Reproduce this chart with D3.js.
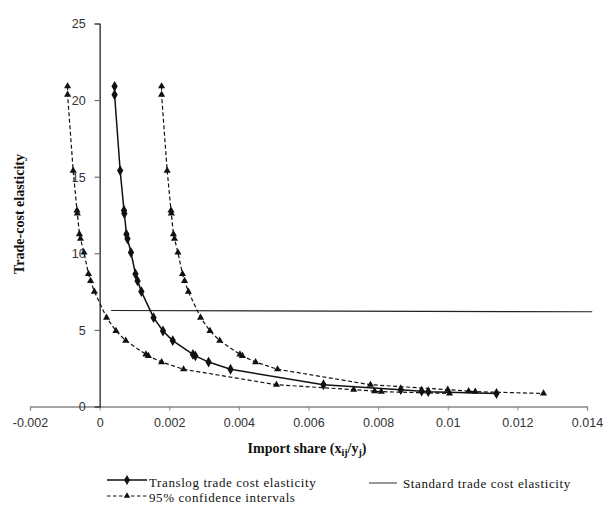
<!DOCTYPE html>
<html>
<head>
<meta charset="utf-8">
<script src="https://cdn.jsdelivr.net/npm/d3@7"></script>
<style>
  body { margin: 0; background: #fff; }
  .tick text { font-family: "Liberation Sans", Arial, sans-serif; font-size: 12.5px; fill: #333; }
  .ttl { font-family: "Liberation Serif", "Times New Roman", serif; font-weight: bold; font-size: 14px; fill: #111; }
  .leg { font-family: "Liberation Serif", "Times New Roman", serif; font-size: 13px; letter-spacing: 0.6px; fill: #111; }
</style>
</head>
<body>
<div id="chart"></div>
<script>
// central translog estimate (x = import share, y = elasticity)
const translogX = [0.00043, 0.00043, 0.00059, 0.00070, 0.00071, 0.00077, 0.00080, 0.00090, 0.00103, 0.00109, 0.00120,
                   0.00155, 0.00182, 0.00210, 0.00268, 0.00275, 0.00313, 0.00376, 0.00643, 0.00865, 0.00925, 0.00944, 0.01140];
const translogY = [20.9, 20.35, 15.4, 12.8, 12.6, 11.25, 10.95, 10.05, 8.65, 8.2, 7.5,
                   5.8, 4.93, 4.3, 3.4, 3.3, 2.9, 2.43, 1.42, 1.1, 1.0, 0.97, 0.85];
// 95% confidence bands
const lowerX = [-0.00092, -0.00092, -0.00076, -0.00065, -0.00064, -0.00058, -0.00055, -0.00045, -0.00032, -0.00026, -0.00015,
                0.00020, 0.00047, 0.00075, 0.00133, 0.00140, 0.00178, 0.00241, 0.00508, 0.00730, 0.00790, 0.00809, 0.01005];
const upperX = [0.00178, 0.00178, 0.00194, 0.00205, 0.00206, 0.00212, 0.00215, 0.00225, 0.00238, 0.00244, 0.00255,
                0.00290, 0.00317, 0.00345, 0.00403, 0.00410, 0.00448, 0.00511, 0.00778, 0.01000, 0.01060, 0.01079, 0.01275];
const bandY = translogY;
// standard (constant) trade cost elasticity
const standardX = [0.00033, 0.01415];
const standardY = [6.27, 6.18];

const xTicks = [-0.002, 0, 0.002, 0.004, 0.006, 0.008, 0.01, 0.012, 0.014];
const xTickLabels = ["-0.002", "0", "0.002", "0.004", "0.006", "0.008", "0.01", "0.012", "0.014"];
const yTicks = [0, 5, 10, 15, 20, 25];

const W = 604, H = 505;
const svg = d3.select("#chart").append("svg")
  .attr("width", W).attr("height", H);

const x = d3.scaleLinear().domain([-0.002, 0.014]).range([30, 587]);
const y = d3.scaleLinear().domain([0, 25]).range([406.5, 23.5]);

const zip = (xs, ys) => xs.map((v, i) => [v, ys[i]]);
const translog = zip(translogX, translogY);
const lower = zip(lowerX, bandY);
const upper = zip(upperX, bandY);
const standard = zip(standardX, standardY);

// x axis
const xAxis = svg.append("g")
  .attr("transform", `translate(0,${y(0)})`)
  .call(d3.axisBottom(x).tickValues(xTicks).tickSize(4).tickPadding(8)
        .tickFormat((d, i) => xTickLabels[i]));
xAxis.select(".domain").attr("stroke", "#888").attr("stroke-width", 1.3);
xAxis.selectAll(".tick line").attr("stroke", "#888");

// y axis sits at x = 0
const yAxis = svg.append("g")
  .attr("transform", `translate(${x(0)},0)`)
  .call(d3.axisLeft(y).tickValues(yTicks).tickSize(5).tickPadding(9));
yAxis.select(".domain").attr("stroke", "#111").attr("stroke-width", 1.2);
yAxis.selectAll(".tick line").attr("stroke", "#555");
yAxis.selectAll(".tick text").attr("dy", "0.35em");

const line = d3.line().x(d => x(d[0])).y(d => y(d[1]));

// standard elasticity
svg.append("path").datum(standard)
  .attr("d", line).attr("fill", "none").attr("stroke", "#222").attr("stroke-width", 1.1);

// confidence bands
[lower, upper].forEach(band => {
  svg.append("path").datum(band)
    .attr("d", line).attr("fill", "none").attr("stroke", "#111")
    .attr("stroke-width", 1.2).attr("stroke-dasharray", "4,2.5");
  svg.selectAll(null).data(band).enter().append("path")
    .attr("transform", d => `translate(${x(d[0])},${y(d[1])})`)
    .attr("d", d3.symbol(d3.symbolTriangle, 22))
    .attr("fill", "#111");
});

// translog
svg.append("path").datum(translog)
  .attr("d", line).attr("fill", "none").attr("stroke", "#111").attr("stroke-width", 1.5);
svg.selectAll(".dia").data(translog).enter().append("path")
  .attr("class", "dia")
  .attr("transform", d => `translate(${x(d[0])},${y(d[1])})`)
  .attr("d", d3.symbol(d3.symbolDiamond, 34))
  .attr("fill", "#111");

// axis titles
svg.append("text").attr("class", "ttl")
  .attr("transform", "translate(24,214) rotate(-90)")
  .attr("text-anchor", "middle")
  .text("Trade-cost elasticity");

const xt = svg.append("text").attr("class", "ttl")
  .attr("x", 307).attr("y", 453).attr("text-anchor", "middle");
xt.append("tspan").text("Import share (x");
xt.append("tspan").attr("dy", 3).style("font-size", "10px").text("ij");
xt.append("tspan").attr("dy", -3).text("/y");
xt.append("tspan").attr("dy", 3).style("font-size", "10px").text("j");
xt.append("tspan").attr("dy", -3).text(")");

// legend
const leg = svg.append("g");
leg.append("line").attr("x1", 107).attr("x2", 147).attr("y1", 480).attr("y2", 480)
  .attr("stroke", "#111").attr("stroke-width", 1.5);
leg.append("path").attr("transform", "translate(127,480)")
  .attr("d", d3.symbol(d3.symbolDiamond, 30)).attr("fill", "#111");
leg.append("text").attr("class", "leg").attr("x", 149).attr("y", 487).text("Translog trade cost elasticity");

leg.append("line").attr("x1", 107).attr("x2", 147).attr("y1", 496).attr("y2", 496)
  .attr("stroke", "#111").attr("stroke-width", 1.1).attr("stroke-dasharray", "3.5,2.5");
leg.append("path").attr("transform", "translate(127,496)")
  .attr("d", d3.symbol(d3.symbolTriangle, 18)).attr("fill", "#111");
leg.append("text").attr("class", "leg").attr("x", 149).attr("y", 502).text("95% confidence intervals");

leg.append("line").attr("x1", 369).attr("x2", 397).attr("y1", 483).attr("y2", 483)
  .attr("stroke", "#444").attr("stroke-width", 1.1);
leg.append("text").attr("class", "leg").attr("x", 403).attr("y", 488).text("Standard trade cost elasticity");
</script>
</body>
</html>
